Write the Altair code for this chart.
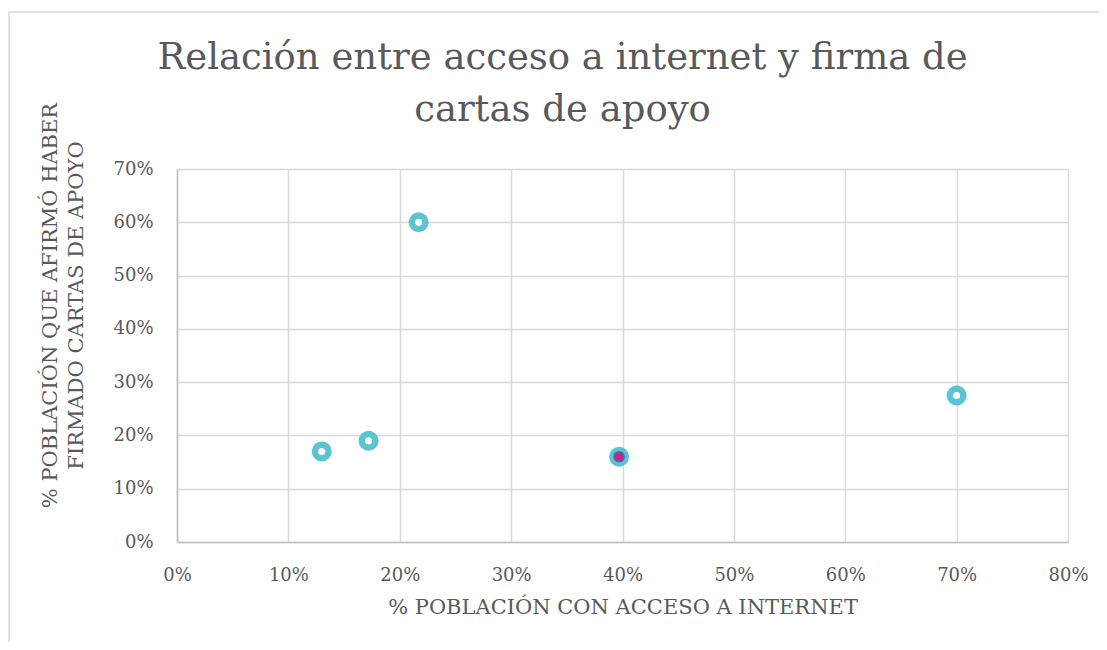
import altair as alt
import pandas as pd

# Data
acceso = [0.13, 0.172, 0.217, 0.397, 0.70]       # % población con acceso a internet
firma = [0.17, 0.19, 0.60, 0.16, 0.275]          # % población que firmó cartas de apoyo
destacado = [False, False, False, True, False]   # punto resaltado (centro magenta)

x_ticks = [0, 0.1, 0.2, 0.3, 0.4, 0.5, 0.6, 0.7, 0.8]
y_ticks = [0, 0.1, 0.2, 0.3, 0.4, 0.5, 0.6, 0.7]

titulo = ["Relación entre acceso a internet y firma de", "cartas de apoyo"]
titulo_x = "% POBLACIÓN CON ACCESO A INTERNET"
titulo_y = ["% POBLACIÓN QUE AFIRMÓ HABER", "FIRMADO CARTAS DE APOYO"]

df = pd.DataFrame({"acceso": acceso, "firma": firma, "destacado": destacado})

W, H = 891, 373
TXT = "#595959"
FONT = "DejaVu Serif"

x = alt.X(
    "acceso:Q",
    scale=alt.Scale(domain=[0, 0.8], nice=False, zero=True),
    axis=alt.Axis(
        values=x_ticks, format=".0%", title=titulo_x,
        labelFont=FONT, labelFontSize=18, labelColor=TXT, labelPadding=24,
        titleFont=FONT, titleFontSize=21, titleColor=TXT, titleFontWeight="normal",
        titleX=W / 2, titleY=54, titleBaseline="top", titleAlign="center",
        ticks=False, tickSize=0, domainColor="#BFBFBF", domainWidth=1.5,
        gridColor="#D9D9D9", gridWidth=1.5, labelFlush=False,
    ),
)
y = alt.Y(
    "firma:Q",
    scale=alt.Scale(domain=[0, 0.7], nice=False, zero=True),
    axis=alt.Axis(
        values=y_ticks, format=".0%", title=titulo_y,
        labelFont=FONT, labelFontSize=18, labelColor=TXT, labelPadding=24,
        titleFont=FONT, titleFontSize=21, titleColor=TXT, titleFontWeight="normal",
        titleAngle=270, titleX=-138, titleY=136, titleBaseline="top",
        titleAlign="center", titleLineHeight=26,
        ticks=False, tickSize=0, domainColor="#BFBFBF", domainWidth=1.5,
        gridColor="#D9D9D9", gridWidth=1.5, labelFlush=False,
    ),
)

base = alt.Chart(df).encode(x=x, y=y)

borde = alt.Chart(pd.DataFrame({"k": [0]})).mark_rect(
    fill="white", fillOpacity=0, stroke="#D9D9D9", strokeWidth=1.5
).encode(
    x=alt.value(-168), x2=alt.value(W + 80),
    y=alt.value(-157), y2=alt.value(H + 200),
)

anillo = base.mark_circle(size=400, color="#5BC4D4", opacity=1)
centro = base.transform_filter("!datum.destacado").mark_circle(size=50, color="white", opacity=1)
morado = base.transform_filter("datum.destacado").mark_circle(size=135, color="#5E5CA6", opacity=1)
magenta = base.transform_filter("datum.destacado").mark_circle(size=45, color="#E5177F", opacity=1)

chart = alt.layer(borde, anillo, centro, morado, magenta).properties(
    width=W, height=H,
    autosize=alt.AutoSizeParams(type="none"),
    padding={"left": 169, "top": 161, "right": 31, "bottom": 100},
    title=alt.TitleParams(
        text=titulo, font=FONT, fontSize=37, fontWeight="normal", color=TXT,
        lineHeight=52, anchor="middle", dx=-60, offset=0, dy=118, baseline="top",
    ),
).configure_view(strokeWidth=0).configure(background="white")

chart.save("out.html", embed_options={"renderer": "svg", "actions": False})
